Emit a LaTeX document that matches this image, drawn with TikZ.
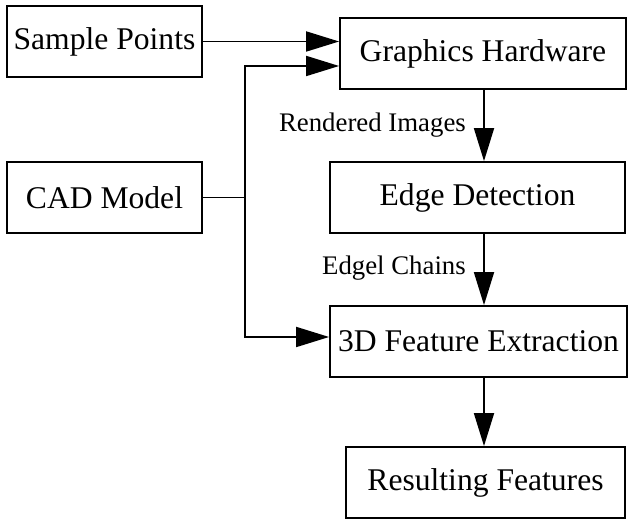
\documentclass[tikz,border=0pt]{standalone}
\usepackage{fontspec}
\newfontfamily\tnr{Liberation Serif}
\usetikzlibrary{arrows.meta}
\begin{document}
\begin{tikzpicture}[x=1pt,y=1pt,
  box/.style={draw, line width=1.8pt, inner sep=0pt, minimum height=71pt,
    font=\tnr\fontsize{31.6}{36}\selectfont},
  lbl/.style={font=\tnr\fontsize{26.8}{31}\selectfont, inner sep=0pt, anchor=east},
  arr/.style={line width=1.8pt, -{Triangle[length=33pt,width=20pt]}},
  darr/.style={line width=1.8pt, {Triangle[length=33pt,width=20pt]}-{Triangle[length=33pt,width=20pt]}}]
\useasboundingbox (0,0) rectangle (629,529);
\node[box, minimum width=195pt] (sp) at (104.5,487.5) {Sample Points};
\node[box, minimum width=286pt] (gh) at (483,475.5) {Graphics Hardware};
\node[box, minimum width=195pt] (cad) at (104.5,331.5) {CAD Model};
\node[box, minimum width=295pt] (ed) at (477.5,331.5) {Edge Detection};
\node[box, minimum width=297pt] (fe) at (478.5,187.5) {3D Feature Extraction};
\node[box, minimum width=279pt] (rf) at (485.5,46.5) {Resulting Features};
\coordinate (jt) at (245,463);
\coordinate (jb) at (245,192);
\coordinate (ax) at (484,0);
\draw[arr] (sp.east) -- (sp.east -| gh.west);
\draw[darr] (jt -| gh.west) -- (jt) -- (jb) -- (jb -| fe.west);
\draw[line width=1.8pt] (cad.east) -- (cad.east -| jt);
\draw[arr] (gh.south -| ax) -- (ed.north -| ax);
\draw[arr] (ed.south -| ax) -- (fe.north -| ax);
\draw[arr] (fe.south -| ax) -- (rf.north -| ax);
\node[lbl] (l1) at (466,404) {Rendered Images};
\node[lbl] (l2) at (466,261) {Edgel Chains};
\end{tikzpicture}
\end{document}
